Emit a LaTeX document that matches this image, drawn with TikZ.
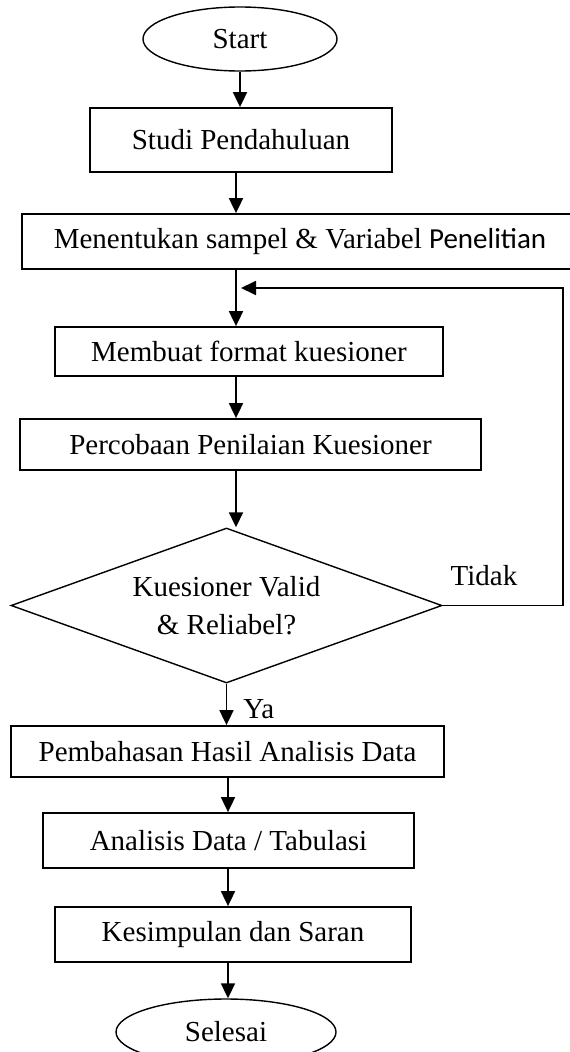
\documentclass[tikz,border=0pt]{standalone}
\usepackage{fontspec}
\setmainfont{Liberation Serif}
\newfontfamily\calibrifont{Carlito}
\usetikzlibrary{arrows.meta,shapes.geometric}
\tikzset{
  fc diagram/.style={x=1pt, y=-1pt, font=\fontsize{29}{36}\selectfont},
  fc box/.style={draw, rectangle, line width=1.8pt, inner sep=0pt, align=center},
  fc term/.style={draw, ellipse, line width=1.4pt, inner sep=0pt},
  fc decision/.style={draw, diamond, aspect=2.78, line width=1.4pt,
    inner sep=0pt, align=center},
  fc arrow/.style={-{Triangle[length=15pt,width=14pt]}, line width=1.8pt},
  fc label/.style={inner sep=0pt}
}

\begin{document}
\begin{tikzpicture}[fc diagram]
\useasboundingbox (0,0) rectangle (570,1052);
\coordinate (upper) at (236,0);
\coordinate (lower) at (228,0);
\coordinate (loop) at (563,288);
\coordinate (back) at (241,288);
\node[fc term, minimum width=194pt, minimum height=64pt] (start) at (240,39) {Start};
\node[fc box, minimum width=302pt, minimum height=64pt] (studi) at (241,140) {Studi Pendahuluan};
\node[fc box, minimum width=556pt, minimum height=55pt] (sampel) at (300,241.5)
  {Menentukan sampel \& Variabel {\calibrifont Penelitian}};
\node[fc box, minimum width=388pt, minimum height=49pt] (format) at (249,351.5) {Membuat format kuesioner};
\node[fc box, minimum width=461pt, minimum height=51pt] (uji) at (250.5,444.5) {Percobaan Penilaian Kuesioner};
\node[fc decision, minimum width=431pt, minimum height=155pt] (valid) at (226.5,605.5)
  {Kuesioner Valid\\[2pt] \& Reliabel?};
\node[fc box, minimum width=433pt, minimum height=51pt] (bahas) at (227.5,751.5) {Pembahasan Hasil Analisis Data};
\node[fc box, minimum width=371pt, minimum height=55pt] (tabulasi) at (228.5,840.5) {Analisis Data / Tabulasi};
\node[fc box, minimum width=356pt, minimum height=55pt] (simpulan) at (233,934.5) {Kesimpulan dan Saran};
\node[fc term, minimum width=220pt, minimum height=66pt] (selesai) at (226,1032) {Selesai};
\node[fc label] (tidak) at (484,576) {Tidak};
\draw[fc arrow] (start) -- (start |- studi.north);
\draw[fc arrow] (upper |- studi.south) -- (upper |- sampel.north);
\draw[fc arrow] (upper |- sampel.south) -- (upper |- format.north);
\draw[fc arrow] (upper |- format.south) -- (upper |- uji.north);
\draw[fc arrow] (upper |- uji.south) -- (upper |- valid.north);
\draw[fc arrow] (valid.south) -- node[fc label, right=16pt, pos=0.62] (ya) {Ya} (valid.south |- bahas.north);
\draw[fc arrow] (lower |- bahas.south) -- (lower |- tabulasi.north);
\draw[fc arrow] (lower |- tabulasi.south) -- (lower |- simpulan.north);
\draw[fc arrow] (lower |- simpulan.south) -- (lower |- selesai.north);
\draw[fc arrow] (valid.east) -| (loop) -- (back);
\end{tikzpicture}
\end{document}
